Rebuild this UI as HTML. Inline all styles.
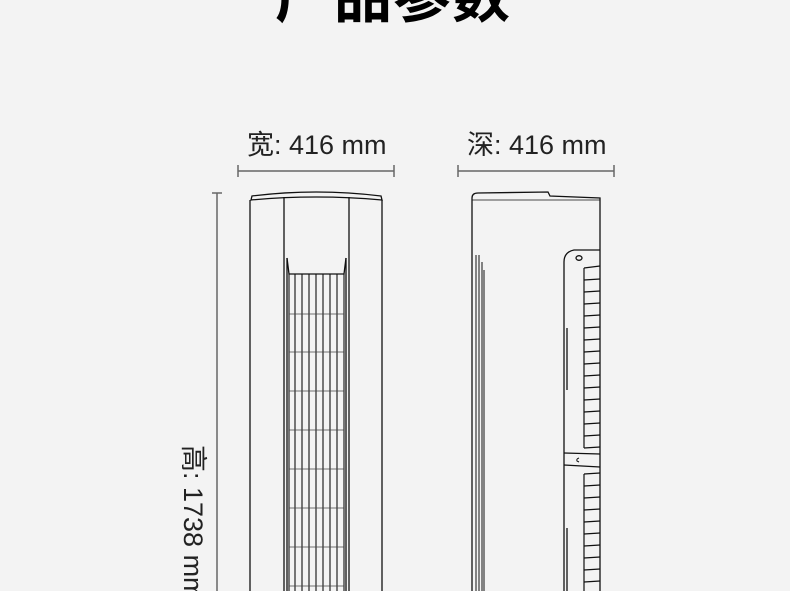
<!DOCTYPE html>
<html><head><meta charset="utf-8"><style>
html,body{margin:0;padding:0;background:#f3f3f3;width:790px;height:591px;overflow:hidden;}
body{position:relative;font-family:"Liberation Sans","Noto Sans CJK SC",sans-serif;}
.t{position:absolute;white-space:nowrap;color:#222;}
</style></head><body>
<div class="t" style="left:268px;top:-50px;font-size:58px;font-weight:bold;color:#000;letter-spacing:1px;width:250px;text-align:center;">产品参数</div>
<div class="t" style="left:247px;top:123px;font-size:27px;">宽: 416 mm</div>
<div class="t" style="left:467px;top:123px;font-size:27px;">深: 416 mm</div>
<div class="t" style="left:215px;top:445px;font-size:27px;transform:rotate(90deg);transform-origin:0 0;">高: 1738 mm</div>
<svg width="790" height="591" style="position:absolute;left:0;top:0" xmlns="http://www.w3.org/2000/svg">
<g stroke="#666" stroke-width="1.5" fill="none">
<line x1="238" y1="171" x2="394" y2="171"/><line x1="238" y1="165" x2="238" y2="177"/><line x1="394" y1="165" x2="394" y2="177"/>
<line x1="458" y1="171" x2="614" y2="171"/><line x1="458" y1="165" x2="458" y2="177"/><line x1="614" y1="165" x2="614" y2="177"/>
<line x1="217" y1="193" x2="217" y2="591"/><line x1="212" y1="193" x2="222" y2="193"/>
</g>
<g stroke="#111" stroke-width="1.3" fill="none">
<path d="M252 196 Q316 188 381 196 L382 200 Q316 194 251 200 Z"/>
<line x1="250" y1="200" x2="250" y2="591"/><line x1="382" y1="200" x2="382" y2="591"/>
<line x1="284" y1="197" x2="284" y2="591"/><line x1="349" y1="197" x2="349" y2="591"/>
<line x1="287" y1="258" x2="287" y2="591"/><line x1="346" y1="258" x2="346" y2="591"/>
<path d="M287 258 L289 274 L344 274 L346 258"/>
<g stroke-width="1.1">
<line x1="289" y1="274" x2="289" y2="591"/><line x1="295" y1="274" x2="295" y2="591"/><line x1="302" y1="274" x2="302" y2="591"/><line x1="309" y1="274" x2="309" y2="591"/><line x1="316" y1="274" x2="316" y2="591"/><line x1="323" y1="274" x2="323" y2="591"/><line x1="330" y1="274" x2="330" y2="591"/><line x1="337" y1="274" x2="337" y2="591"/><line x1="344" y1="274" x2="344" y2="591"/>
</g>
<g stroke-width="0.8" stroke="#444">
<line x1="289" y1="314" x2="344" y2="314"/><line x1="289" y1="352" x2="344" y2="352"/><line x1="289" y1="391" x2="344" y2="391"/><line x1="289" y1="430" x2="344" y2="430"/><line x1="289" y1="469" x2="344" y2="469"/><line x1="289" y1="508" x2="344" y2="508"/><line x1="289" y1="547" x2="344" y2="547"/><line x1="289" y1="586" x2="344" y2="586"/>
</g>
<path d="M472 198 Q472 193 478 193 L548 192 L550 196 L600 198 L600 591"/>
<line x1="472" y1="198" x2="472" y2="591"/>
<line x1="472" y1="200" x2="600" y2="200" stroke-width="0.8"/>
<g stroke-width="1">
<line x1="476" y1="255" x2="476" y2="591"/><line x1="479" y1="255" x2="479" y2="591"/><line x1="482" y1="262" x2="482" y2="591"/><line x1="484" y1="270" x2="484" y2="591"/>
</g>
<path d="M564 591 L564 262 Q564 252 574 250 L600 250"/>
<ellipse cx="579" cy="258" rx="3" ry="2.3"/>
<line x1="567" y1="328" x2="567" y2="390"/>
<line x1="567" y1="528" x2="567" y2="591"/>
<path d="M564 453 L600 454 M564 465 L600 467"/>
<path d="M579 458 Q576 459 577 461 L579 462" stroke-width="1"/>
<g stroke-width="1.2">
<path d="M584 268 L600 266 M584 280 L600 279 M584 292 L600 291 M584 304 L600 303 M584 316 L600 315 M584 328 L600 327 M584 340 L600 339 M584 352 L600 351 M584 364 L600 363 M584 376 L600 375 M584 388 L600 387 M584 400 L600 399 M584 412 L600 411 M584 424 L600 423 M584 436 L600 435 M584 448 L600 447"/>
<path d="M584 474 L600 473 M584 486 L600 485 M584 498 L600 497 M584 510 L600 509 M584 522 L600 521 M584 534 L600 533 M584 546 L600 545 M584 558 L600 557 M584 570 L600 569 M584 582 L600 581"/>
<path d="M584 268 L584 448 M584 474 L584 591"/>
</g>
</g>
</svg>
</body></html>
